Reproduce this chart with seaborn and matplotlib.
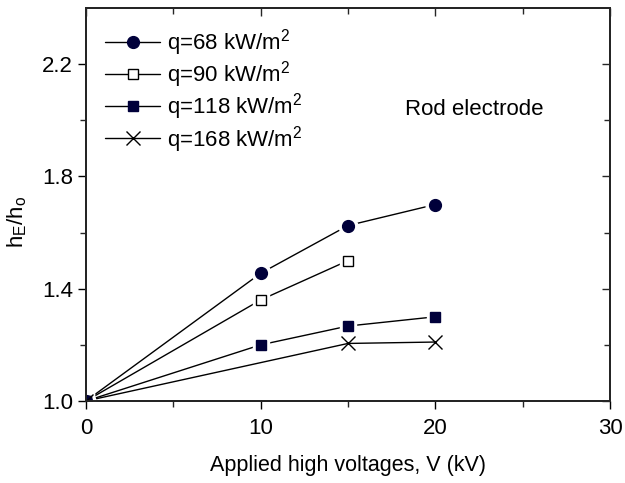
import pandas as pd
import matplotlib
matplotlib.use('Agg')
import matplotlib.pyplot as plt
import seaborn as sns

# data
voltage_68 = [0, 10, 15, 20]
ratio_68 = [1.0, 1.455, 1.625, 1.70]
voltage_90 = [0, 10, 15]
ratio_90 = [1.0, 1.36, 1.50]
voltage_118 = [0, 10, 15, 20]
ratio_118 = [1.0, 1.20, 1.267, 1.30]
voltage_168 = [0, 15, 20]
ratio_168 = [1.0, 1.205, 1.21]

labels = ['q=68 kW/m$^2$', 'q=90 kW/m$^2$', 'q=118 kW/m$^2$', 'q=168 kW/m$^2$']
x_ticks = [0, 10, 20, 30]
y_ticks = [1.0, 1.4, 1.8, 2.2]

sns.set_theme(style='ticks')
plt.rcParams['font.family'] = ['Liberation Sans', 'DejaVu Sans']
plt.rcParams['mathtext.fontset'] = 'custom'
plt.rcParams['mathtext.rm'] = 'Liberation Sans'
plt.rcParams['mathtext.it'] = 'Liberation Sans'
plt.rcParams['text.color'] = 'black'
plt.rcParams['axes.labelcolor'] = 'black'

navy = '#00003a'
styles = [
    dict(marker='o', ms=8.5, mfc=navy, mec=navy),
    dict(marker='s', ms=7, mfc='white', mec='black'),
    dict(marker='s', ms=7, mfc=navy, mec=navy),
    dict(marker='x', ms=10, mfc='none', mec='black'),
]

frames = []
for lab, xs, ys in zip(labels,
                       [voltage_68, voltage_90, voltage_118, voltage_168],
                       [ratio_68, ratio_90, ratio_118, ratio_168]):
    frames.append(pd.DataFrame({'V': xs, 'ratio': ys, 'series': lab}))
df = pd.concat(frames, ignore_index=True)

fig = plt.figure(figsize=(6.25, 4.83), dpi=100)
ax = fig.add_axes([0.1376, 0.1698, 0.976 - 0.1376, 0.9834 - 0.1698])

sns.lineplot(data=df, x='V', y='ratio', hue='series', hue_order=labels,
             palette=['black'] * 4, linewidth=1.0, legend=False, ax=ax,
             estimator=None, sort=False)

handles = []
for lab, st in zip(labels, styles):
    sub = df[df['series'] == lab]
    # white halo so the line breaks around each marker
    if st['marker'] != 'x':
        ax.plot(sub['V'], sub['ratio'], ls='none', marker=st['marker'],
                ms=st['ms'] + 5, mfc='white', mec='white', zorder=3)
    ax.plot(sub['V'], sub['ratio'], ls='none', marker=st['marker'],
            ms=st['ms'], mfc=st['mfc'], mec=st['mec'], mew=1.0, zorder=4)
    h, = ax.plot([], [], color='black', lw=1.0, marker=st['marker'],
                 ms=st['ms'], mfc=st['mfc'], mec=st['mec'], mew=1.0)
    handles.append(h)

ax.set_xlim(0, 30)
ax.set_ylim(1.0, 2.4)
ax.set_xticks(x_ticks)
ax.set_xticks([5, 15, 25], minor=True)
ax.set_yticks(y_ticks)
ax.set_yticks([1.2, 1.6, 2.0], minor=True)
ax.set_yticklabels([f'{v:.1f}' for v in y_ticks])
ax.tick_params(axis='both', which='major', direction='out', length=6, width=1,
               labelsize=16, colors='black')
ax.tick_params(axis='x', which='major', pad=6)
ax.tick_params(axis='both', which='minor', direction='out', length=4, width=1)
for side in ['left', 'bottom', 'right', 'top']:
    ax.spines[side].set_visible(True)
    ax.spines[side].set_linewidth(1.3)
    ax.spines[side].set_color('black')

# mirrored inward ticks on top and right
axr = ax.twinx()
axr.set_ylim(ax.get_ylim())
axr.set_yticks(y_ticks)
axr.set_yticks([1.2, 1.6, 2.0], minor=True)
axr.tick_params(axis='y', which='both', direction='in', labelright=False, length=6, width=1)
axr.tick_params(axis='y', which='minor', length=4)
axt = ax.twiny()
axt.set_xlim(ax.get_xlim())
axt.set_xticks(x_ticks)
axt.set_xticks([5, 15, 25], minor=True)
axt.tick_params(axis='x', which='both', direction='in', labeltop=False, length=6, width=1)
axt.tick_params(axis='x', which='minor', length=4)

ax.set_xlabel('Applied high voltages, V (kV)', fontsize=15.5, labelpad=12)
ax.set_ylabel('h$_E$/h$_o$', fontsize=16)
ax.yaxis.set_label_coords(-0.108, 0.455)

ax.text(22.2, 2.04, 'Rod electrode', fontsize=16, ha='center', va='center')

ax.legend(handles, labels, loc='upper left', bbox_to_anchor=(0.0, 1.0),
          frameon=False, fontsize=16, handlelength=2.5, handletextpad=0.3,
          labelspacing=0.06, borderaxespad=0.45)

fig.savefig('out.png', dpi=100)
